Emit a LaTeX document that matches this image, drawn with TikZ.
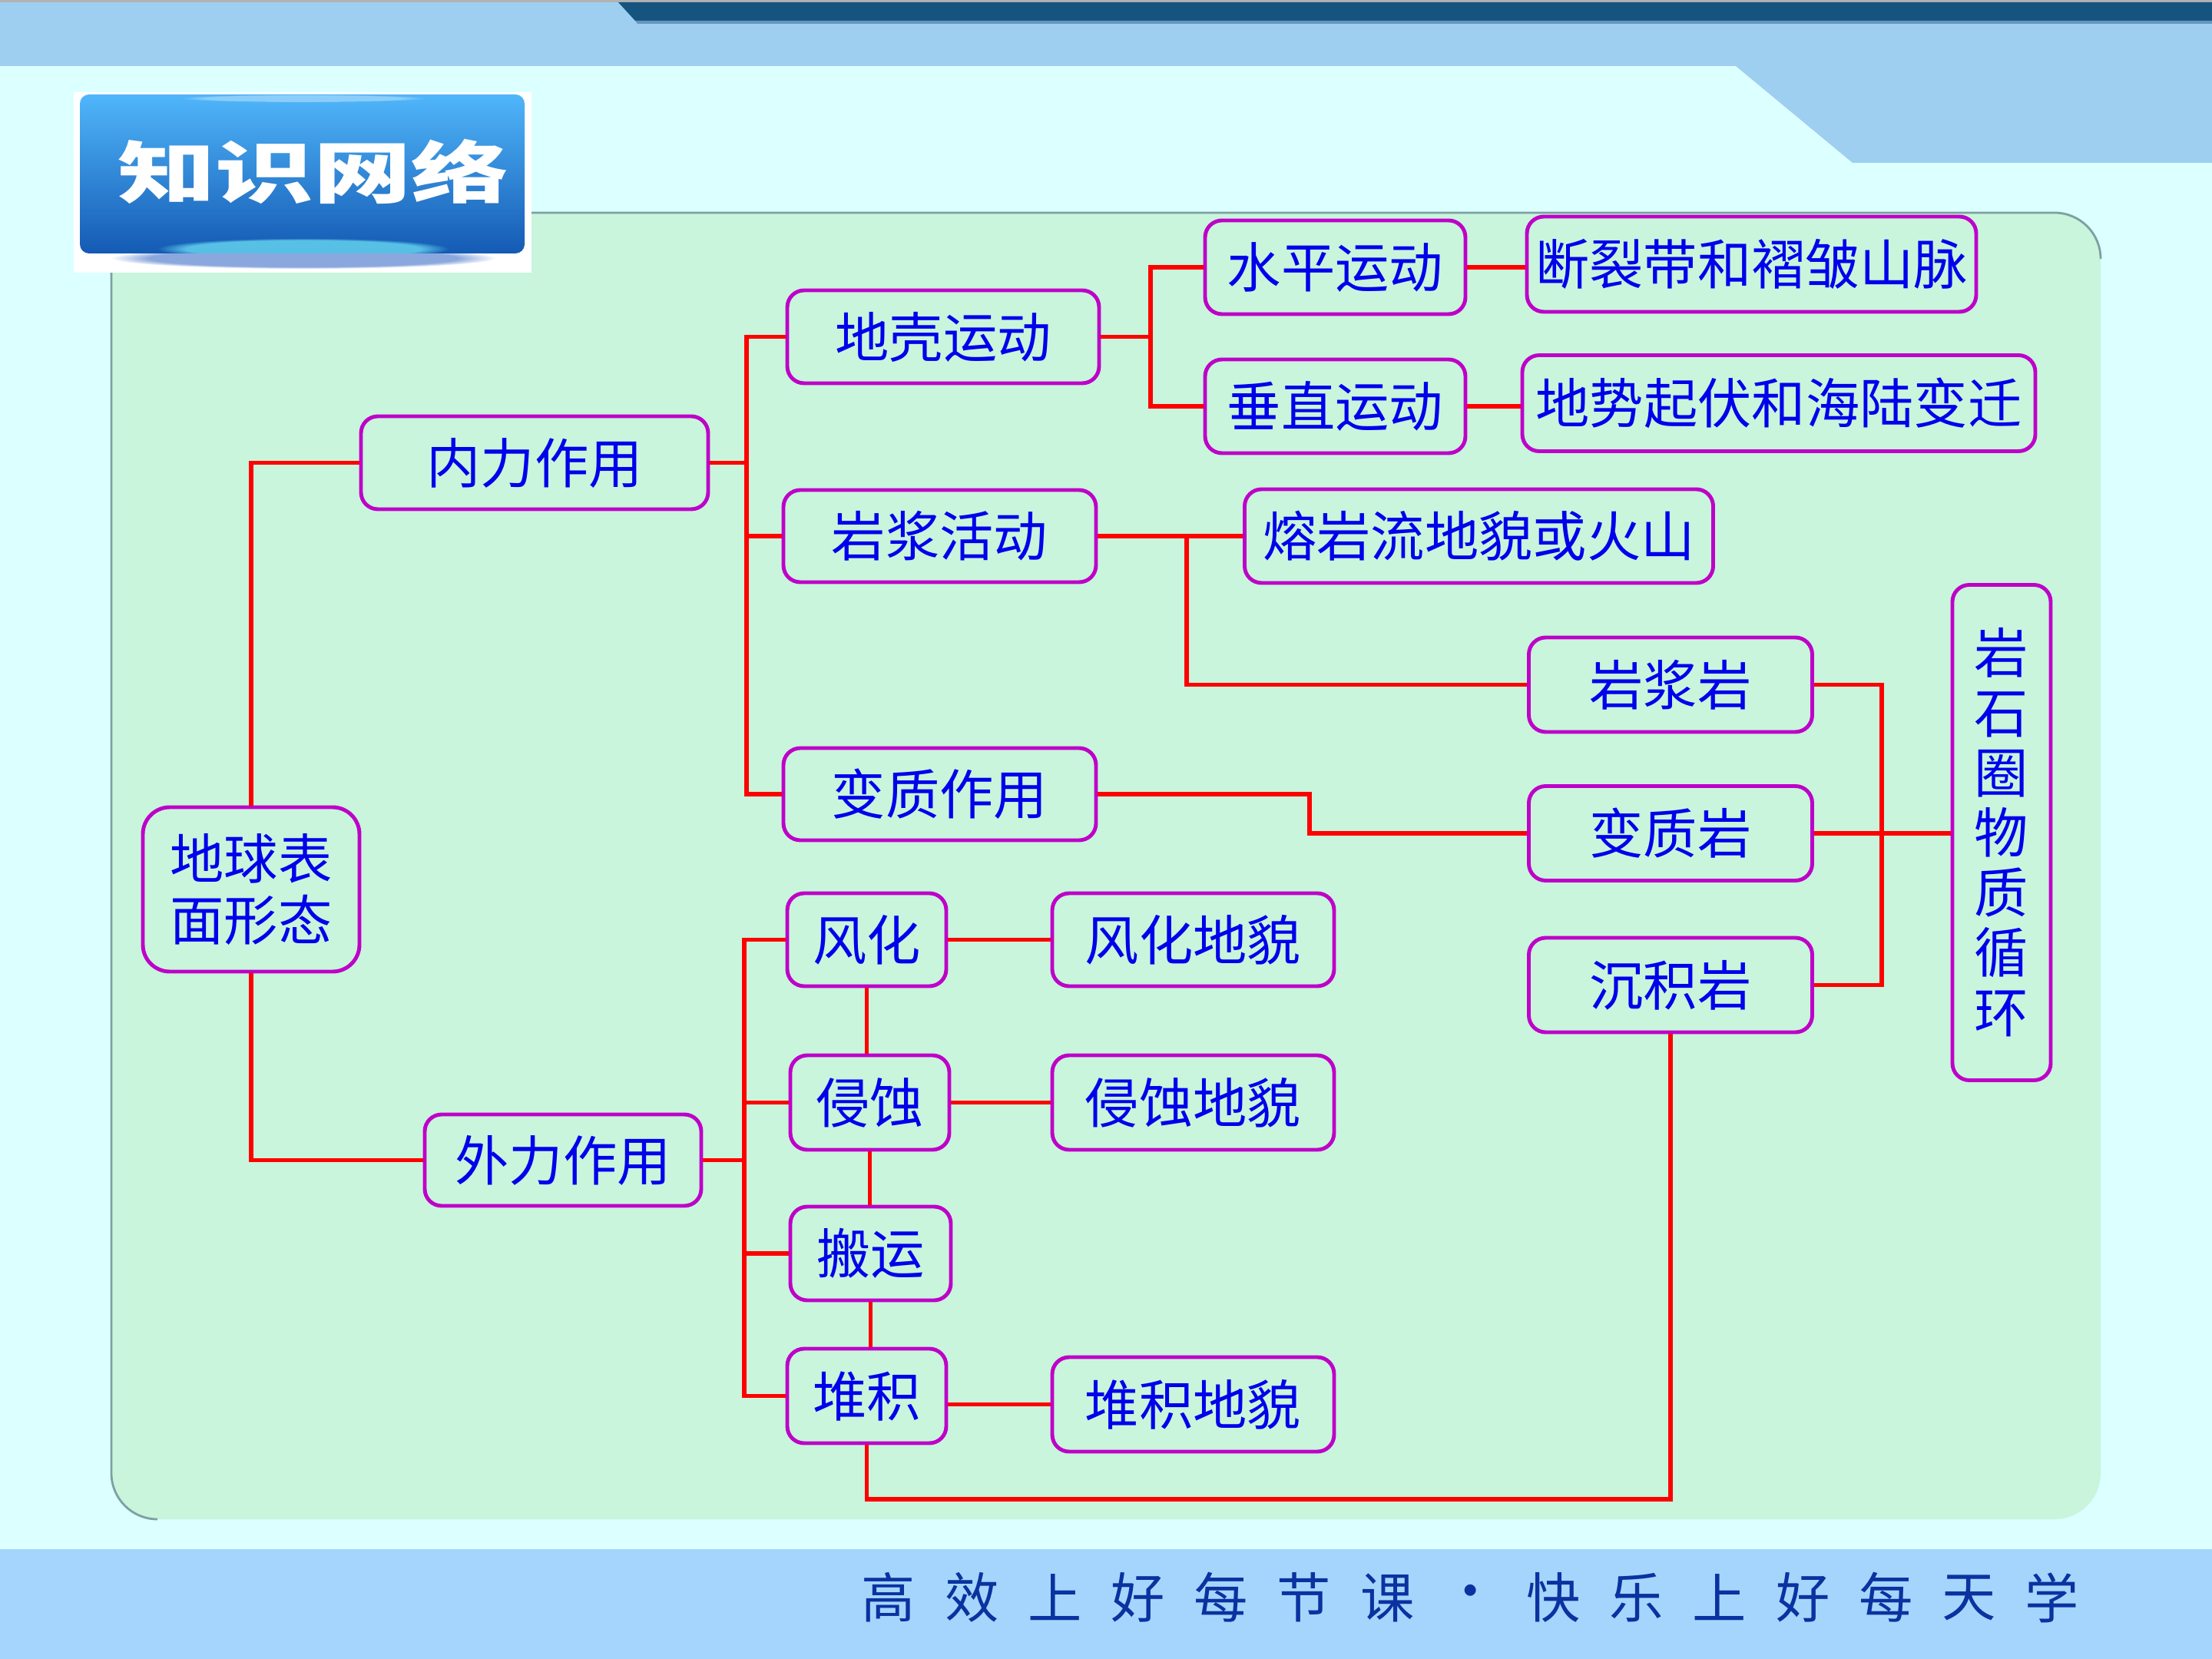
\documentclass[tikz,border=0pt]{standalone}
\usepackage{fontspec}
\newfontfamily\cjk{Noto Sans CJK SC}
\usetikzlibrary{fadings}
\definecolor{bgcyan}{RGB}{220,255,255}
\definecolor{panelgreen}{RGB}{200,245,220}
\definecolor{panelgray}{RGB}{125,160,160}
\definecolor{bandblue}{RGB}{158,207,240}
\definecolor{bardark}{RGB}{22,84,128}
\definecolor{barmid}{RGB}{100,150,190}
\definecolor{footblue}{RGB}{165,213,252}
\definecolor{foottext}{RGB}{10,50,160}
\definecolor{boxline}{RGB}{190,0,200}
\definecolor{txtblue}{RGB}{0,0,235}
\definecolor{linkred}{RGB}{255,0,0}
\definecolor{btntop}{RGB}{80,182,250}
\definecolor{btnmid}{RGB}{40,130,220}
\definecolor{btnbot}{RGB}{20,90,180}
\definecolor{glowcyan}{RGB}{110,225,245}
\definecolor{shadowblue}{RGB}{60,110,200}
\tikzset{
  box/.style={draw=boxline, line width=1.4pt, rounded corners=0.22cm, text=txtblue,
    font=\cjk\fontsize{20}{22}\selectfont, inner sep=0pt, align=center},
  wh/.style 2 args={minimum width=#1cm, minimum height=#2cm},
  link/.style={draw=linkred, line width=1.6pt},
  foot/.style={text=foottext, font=\cjk\fontsize{20}{22}\selectfont, inner sep=0pt}
}
\begin{document}
\begin{tikzpicture}
  \useasboundingbox (0,0) rectangle (28.8,-21.6);
  % background, banner and footer
  \fill[bgcyan] (0,0) rectangle (28.8,-21.6);
  \fill[bandblue] (0,-0.03) rectangle (28.8,-0.86);
  \fill[bandblue] (22.60,-0.86) -- (28.8,-0.86) -- (28.8,-2.12) -- (24.12,-2.12) -- cycle;
  \fill[black!30] (0,0) rectangle (28.8,-0.03);
  \fill[bardark] (8.05,-0.03) -- (28.8,-0.03) -- (28.8,-0.27) -- (8.27,-0.27) -- cycle;
  \fill[barmid] (8.27,-0.27) -- (28.8,-0.27) -- (28.8,-0.31) -- (8.30,-0.31) -- cycle;
  \fill[footblue] (0,-20.17) rectangle (28.8,-21.6);
  \fill[panelgreen, rounded corners=0.6cm] (1.45,-2.77) rectangle (27.35,-19.78);
  \draw[panelgray, line width=0.8pt, rounded corners=0.6cm]
    (2.05,-19.78) -- (1.45,-19.78) -- (1.45,-2.77) -- (27.35,-2.77) -- (27.35,-3.37);
  % title button
  \fill[white] (0.96,-1.20) rectangle (6.92,-3.55);
  \fill[shadowblue, opacity=0.6, path fading=circle with fuzzy edge 20 percent] (3.95,-3.36) ellipse (2.5cm and 0.14cm);
  \shade[top color=btntop, middle color=btnmid, bottom color=btnbot, rounded corners=0.12cm]
    (1.04,-1.23) rectangle (6.83,-3.30);
  \begin{scope}
    \clip[rounded corners=0.12cm] (1.04,-1.23) rectangle (6.83,-3.30);
    \fill[glowcyan, opacity=0.75, path fading=circle with fuzzy edge 20 percent] (3.95,-3.24) ellipse (1.9cm and 0.14cm);
    \fill[white, opacity=0.35, path fading=circle with fuzzy edge 20 percent] (3.95,-1.28) ellipse (1.6cm and 0.05cm);
  \end{scope}
  \node[text=white, font=\cjk\fontsize{25}{25}\selectfont\bfseries, inner sep=0pt] (title) at (4.08,-2.23)
    {\scalebox{1.45}[1]{知识网络}};
  % nodes
  \node[box, wh={2.82}{2.14}, rounded corners=0.35cm, font=\cjk\fontsize{20}{22.8}\selectfont]
    (earth) at (3.27,-11.58) {地球表\\面形态};
  \node[box, wh={4.52}{1.21}] (neili) at (6.96,-6.025) {内力作用};
  \node[box, wh={3.60}{1.19}] (waili) at (7.33,-15.105) {外力作用};
  \node[box, wh={4.06}{1.21}] (dike) at (12.28,-4.385) {地壳运动};
  \node[box, wh={4.07}{1.20}] (yjhd) at (12.235,-6.98) {岩浆活动};
  \node[box, wh={4.07}{1.20}] (bzzy) at (12.235,-10.34) {变质作用};
  \node[box, wh={3.39}{1.22}] (shuiping) at (17.385,-3.48) {水平运动};
  \node[box, wh={3.39}{1.22}] (chuizhi) at (17.385,-5.29) {垂直运动};
  \node[box, wh={5.85}{1.24}] (duanlie) at (22.805,-3.44) {断裂带和褶皱山脉};
  \node[box, wh={6.68}{1.25}] (dishi) at (23.16,-5.25) {地势起伏和海陆变迁};
  \node[box, wh={6.10}{1.22}] (rongyan) at (19.255,-6.98) {熔岩流地貌或火山};
  \node[box, wh={3.69}{1.23}] (yjy) at (21.75,-8.915) {岩浆岩};
  \node[box, wh={3.69}{1.23}] (bzy) at (21.75,-10.85) {变质岩};
  \node[box, wh={3.69}{1.23}] (cjy) at (21.75,-12.825) {沉积岩};
  \node[box, wh={1.28}{6.45}, font=\cjk\fontsize{20}{22.2}\selectfont]
    (xunhuan) at (26.06,-10.84) {岩\\石\\圈\\物\\质\\循\\环};
  \node[box, wh={2.07}{1.21}] (fenghua) at (11.285,-12.235) {风化};
  \node[box, wh={2.07}{1.23}] (qinshi) at (11.325,-14.355) {侵蚀};
  \node[box, wh={2.09}{1.22}] (banyun) at (11.335,-16.32) {搬运};
  \node[box, wh={2.07}{1.23}] (duiji) at (11.285,-18.175) {堆积};
  \node[box, wh={3.67}{1.21}] (fhdm) at (15.535,-12.235) {风化地貌};
  \node[box, wh={3.67}{1.23}] (qsdm) at (15.535,-14.355) {侵蚀地貌};
  \node[box, wh={3.67}{1.23}] (djdm) at (15.535,-18.285) {堆积地貌};
  % connectors
  \coordinate (brkin) at (9.72,0);
  \coordinate (brkout) at (9.69,0);
  \coordinate (brkdk) at (14.98,0);
  \coordinate (brkyj) at (15.45,0);
  \coordinate (kink) at (17.05,0);
  \coordinate (brkrk) at (24.50,0);
  \coordinate (loopbot) at (0,-19.52);
  \draw[link] (earth.north) |- (neili.west);
  \draw[link] (earth.south) |- (waili.west);
  \draw[link] (dike.west) -- (dike.west -| brkin) |- (bzzy.west);
  \draw[link] (neili.east) -- (neili.east -| brkin);
  \draw[link] (yjhd.west) -- (yjhd.west -| brkin);
  \draw[link] (shuiping.west) -- (shuiping.west -| brkdk) |- (chuizhi.west);
  \draw[link] (dike.east) -- (dike.east -| brkdk);
  \draw[link] (shuiping.east) -- (shuiping.east -| duanlie.west);
  \draw[link] (chuizhi.east) -- (chuizhi.east -| dishi.west);
  \draw[link] (yjhd.east) -- (rongyan.west);
  \draw[link] (yjhd.east -| brkyj) |- (yjy.west);
  \draw[link] (bzzy.east) -- (bzzy.east -| kink) |- (bzy.west);
  \draw[link] (yjy.east) -- (yjy.east -| brkrk) |- (cjy.east);
  \draw[link] (bzy.east) -- (bzy.east -| xunhuan.west);
  \draw[link] (fenghua.west) -- (fenghua.west -| brkout) |- (duiji.west);
  \draw[link] (waili.east) -- (waili.east -| brkout);
  \draw[link] (qinshi.west) -- (qinshi.west -| brkout);
  \draw[link] (banyun.west) -- (banyun.west -| brkout);
  \draw[link] (fenghua.south) -- (fenghua.south |- qinshi.north);
  \draw[link] (qinshi.south) -- (qinshi.south |- banyun.north);
  \draw[link] (banyun.south) -- (banyun.south |- duiji.north);
  \draw[link] (fenghua.east) -- (fhdm.west);
  \draw[link] (qinshi.east) -- (qsdm.west);
  \draw[link] (duiji.east |- djdm.west) -- (djdm.west);
  \draw[link] (duiji.south) -- (duiji.south |- loopbot) -| (cjy.south);
  % footer slogan
  \foreach \ch [count=\i from 0] in {高,效,上,好,每,节,课,·,快,乐,上,好,每,天,学}
    \node[foot] (foot\i) at ({11.57+1.082*\i},-20.80) {\ch};
\end{tikzpicture}
\end{document}
